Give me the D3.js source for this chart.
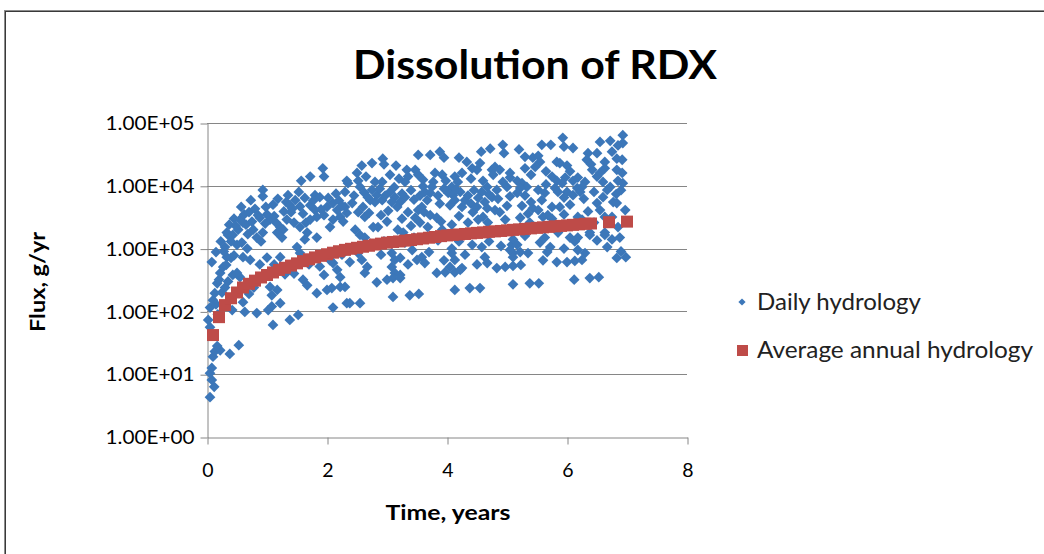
<!DOCTYPE html>
<html><head><meta charset="utf-8">
<script src="https://cdn.jsdelivr.net/npm/d3@7"></script>
<style>body{margin:0;background:#fff}svg{display:block}</style>
</head><body><svg id="c" width="1044" height="554"></svg>
<script>
const chartTitle = "Dissolution of RDX";
const xTitle = "Time, years";
const yTitle = "Flux, g/yr";
const xTicks = [0, 2, 4, 6, 8];
const yTicks = [1, 10, 100, 1000, 10000, 100000];
const yTickLabels = ["1.00E+00", "1.00E+01", "1.00E+02", "1.00E+03", "1.00E+04", "1.00E+05"];
const seriesNames = ["Daily hydrology", "Average annual hydrology"];

// Daily hydrology: [time (years), flux (g/yr)]
const dailyHydrology = [
[0.05,4.3],[0.12,6.3],[0.08,8.1],[0.05,10.4],[0.08,12.6],[0.10,19],[0.13,23],[0.22,24],[0.17,28],[0.38,21],[0.53,29],[0.05,56],[0.02,73],[0.05,115],[0.42,105],[0.60,140],[0.63,98],[0.83,94],[1.10,61],[1.02,105],[1.08,120],[1.22,135],[1.38,73],[1.52,88],[1.83,195],[2.10,115],[2.33,135],[0.22,410],[0.17,280],[0.13,195],[0.43,380],[0.55,350],[1.05,245],[1.17,220],[1.08,180],[1.60,320],[1.67,260],[2.00,220],[2.08,235],[2.22,245],[0.25,200],[0.30,1060],[0.35,1650],[0.50,1150],[0.67,1000],[0.33,730],[0.27,510],[0.60,730],[0.72,660],[1.22,730],[2.10,590],[2.17,460],[2.22,350],[0.50,410],[1.50,1060],[1.55,850],[1.60,660],[1.55,2200],[1.67,1800],[1.63,1400],[1.83,1500],[1.05,2900],[1.22,2200],[1.17,1800],[1.27,2000],[1.25,1500],[1.33,2900],[0.55,2900],[0.60,2600],[0.33,1800],[0.43,1650],[0.52,2000],[0.85,3400],[0.88,3100],[0.77,2000],[0.83,1500],[0.93,1800],[1.93,19000],[1.95,14000],[1.57,12000],[1.72,14000],[0.93,8600],[0.93,6800],[0.73,5900],[0.57,4600],[1.35,7100],[1.32,5500],[1.38,4900],[1.47,5900],[1.53,8000],[1.63,6400],[1.55,4700],[1.80,7100],[1.88,6600],[1.72,4900],[1.80,4100],[1.83,3200],[1.72,2900],[2.00,4600],[2.10,5300],[2.17,4100],[2.22,3200],[2.10,2900],[2.05,2200],[2.27,2700],[2.33,3700],[2.33,12000],[2.30,8000],[2.58,21000],[2.75,23000],[2.93,27000],[2.95,22000],[3.52,31000],[3.72,31000],[3.88,35000],[3.95,28000],[4.57,35000],[4.72,39000],[4.33,24000],[4.42,19000],[4.50,18000],[4.55,23000],[4.75,18000],[4.77,15000],[3.33,18000],[3.47,18000],[3.52,15000],[3.35,14000],[3.30,11500],[3.80,16000],[3.92,15000],[3.77,11500],[3.75,9600],[2.35,11000],[2.52,12000],[2.55,9600],[2.80,11500],[2.92,11500],[4.13,14000],[4.18,11500],[4.08,9600],[4.60,12000],[4.67,9600],[4.58,8000],[2.75,8600],[2.83,7100],[2.92,5900],[2.80,5500],[2.72,5900],[3.05,8000],[3.13,6600],[3.22,5500],[3.08,5500],[3.17,4600],[3.30,6600],[3.63,8000],[3.72,7700],[3.67,5900],[3.58,4600],[3.52,4100],[4.02,7700],[4.10,7100],[4.22,8000],[4.13,5900],[4.05,4900],[4.30,5900],[4.25,4600],[4.52,6400],[4.63,5500],[4.75,6600],[4.67,4400],[2.42,5300],[2.30,4600],[2.60,4600],[2.63,3200],[2.52,3800],[3.35,3800],[3.47,3100],[3.55,2600],[3.72,3400],[3.83,3100],[3.68,2200],[4.43,3800],[4.52,2900],[4.60,3200],[4.68,2600],[2.47,2000],[2.55,1650],[2.63,1500],[2.85,2200],[2.77,2200],[3.18,2000],[3.27,1800],[3.92,2000],[4.00,1650],[4.08,2400],[4.75,1800],[2.52,850],[2.58,660],[2.67,510],[2.63,410],[2.38,610],[3.08,850],[3.13,660],[3.08,510],[3.13,410],[3.22,380],[3.42,950],[3.50,660],[3.58,730],[3.63,590],[4.08,850],[4.13,660],[4.05,510],[4.13,420],[4.25,490],[4.42,1150],[4.58,1060],[4.63,730],[4.67,590],[3.83,410],[3.97,420],[2.38,135],[2.55,135],[3.10,170],[3.38,180],[3.53,190],[4.13,220],[4.38,235],[4.55,235],[5.10,270],[5.38,280],[5.53,280],[6.12,320],[6.38,340],[6.53,350],[6.83,710],[6.98,730],[2.83,290],[3.00,320],[3.10,340],[3.22,340],[4.22,460],[4.83,490],[4.97,510],[5.10,530],[5.23,550],[5.83,610],[6.00,610],[6.13,635],[6.25,660],[3.22,710],[4.08,1000],[5.08,1150],[5.10,850],[5.22,880],[5.63,1500],[5.67,880],[6.13,1300],[6.18,950],[6.63,1650],[6.67,1060],[6.75,1400],[6.38,1650],[2.30,245],
[6.93,64000],[6.93,48000],[6.55,50000],[6.72,52000],[5.93,58000],[5.95,42000],[5.58,45000],[5.73,45000],[4.93,45000],[4.95,33000],[6.35,33000],[6.50,33000],[6.33,26000],[5.30,29000],[5.43,28000],[5.52,30000],[5.55,24000],[5.47,20000],[5.30,19000],[5.83,24000],[5.88,23000],[6.83,27000],[6.92,26000],[6.63,24000],[6.63,19000],[4.80,20000],[4.88,18000],[6.42,18000],[6.50,14000],[6.55,16000],[6.83,18000],[6.92,16000],[6.85,12000],[6.93,11000],[6.05,17000],[5.97,13500],[6.10,12000],[5.75,14000],[5.83,12000],[5.92,11000],[5.05,13500],[4.93,11500],[5.00,9600],[5.17,12000],[5.25,11000],[5.33,9600],[5.22,9200],[5.17,7700],[6.18,13500],[6.30,11500],[6.25,9600],[6.17,9200],[6.10,7100],[6.22,8000],[6.60,11500],[6.72,9600],[6.67,8600],[6.60,6600],[4.83,8600],[5.52,8600],[5.63,7700],[5.58,5900],[5.80,9200],[5.85,8000],[6.00,8000],[6.77,5500],[6.83,5300],[5.43,4400],[5.52,4100],[5.75,4600],[5.88,4600],[6.50,5300],[6.55,4100],[6.63,3200],[6.75,3200],[6.97,4100],[4.80,4100],[4.88,3800],[4.97,2900],[5.22,3100],[5.60,3200],[5.68,3400],[5.38,2600],[5.43,2100],[6.18,3200],[6.25,2900],[6.08,2400],[6.38,1800],[6.63,1800],[6.05,1500],[6.18,1500],[5.10,1400],[5.17,1150],[5.05,950],[5.10,730],[5.72,1060],
[0.08,610],[0.15,880],[0.23,1300],[0.32,550],[0.40,710],[0.10,151],
[0.37,2400],[0.45,3000],[0.48,2300],[0.62,3500],[0.65,2400],[0.70,3800],[0.75,2700],[0.80,4300],[0.68,1700],[0.40,1300],[0.28,900],[0.45,780],[0.58,1250],[0.97,2500],[1.00,3500],[0.98,4600],[1.12,3300],[1.15,2600],[1.40,3800],[1.45,2600],[1.10,5000],[1.18,6200],[1.28,3900],[1.42,4300],[1.60,3600],[1.65,2600],[1.77,5800],[1.90,4200],[1.95,3400],[2.02,6400],[2.15,7500],[2.20,5800],[2.25,4800],[0.90,1300],[1.00,720],[1.12,560],[0.88,560],[0.35,300],[0.30,240],[0.20,320],[0.15,130],[0.18,90],[0.70,190],[0.78,240],[1.30,390],[1.45,400],[1.70,560],[1.88,520],[1.95,380],[2.05,650],[2.25,800],
[2.45,7000],[2.62,7800],[2.68,6600],[2.88,9000],[2.97,7000],[3.02,4000],[3.12,9500],[3.25,7500],[3.40,8500],[3.45,6000],[3.55,7000],[3.60,9800],[3.85,7000],[3.88,5200],[3.95,9000],[4.15,8800],[4.35,7000],[4.40,5200],[4.45,8500],[4.70,7300],[2.70,3700],[2.90,3400],[3.00,2700],[3.25,3000],[3.40,2300],[3.62,3800],[3.90,2700],[4.20,3300],[4.35,2600],[4.50,4600],[2.72,1200],[2.95,1300],[3.30,1250],[3.45,1500],[3.85,1350],[4.20,1300],[4.35,1700],[4.70,1300],[2.90,800],[3.35,560],[3.70,880],[3.95,650],[4.30,800],[4.50,560],[2.50,16000],[2.65,14000],[3.05,15000],[3.20,13000],[3.60,12500],[3.98,12000],[4.25,16000],[4.40,13000],[3.15,21000],[4.20,28000],
[4.85,6200],[5.05,6800],[5.30,7000],[5.40,5500],[5.65,10500],[5.95,6500],[6.05,5000],[6.28,6200],[6.45,8000],[6.82,7400],[6.90,8500],[5.00,4800],[5.25,4800],[5.35,3600],[5.75,3000],[5.95,3500],[6.35,3900],[6.45,2600],[6.85,2200],[5.00,1900],[5.30,1600],[5.55,1250],[5.85,1800],[6.50,1350],[6.88,1500],[4.90,1100],[5.35,850],[5.60,650],[5.95,1000],[6.30,850],[6.90,900],[5.05,16000],[5.40,15000],[5.65,17000],[6.00,21000],[6.40,22000],[6.75,35000],[5.20,38000],[6.10,40000],[6.85,44000]
];

// Average annual hydrology
const annualTime = [0.1,0.2,0.3,0.4,0.5,0.6,0.7,0.8,0.9,1.0,1.1,1.2,1.3,1.4,1.5,1.6,1.7,1.8,1.9,2.0,2.1,2.2,2.3,2.4,2.5,2.6,2.7,2.8,2.9,3.0,3.1,3.2,3.3,3.4,3.5,3.6,3.7,3.8,3.9,4.0,4.1,4.2,4.3,4.4,4.5,4.6,4.7,4.8,4.9,5.0,5.1,5.2,5.3,5.4,5.5,5.6,5.7,5.8,5.9,6.0,6.1,6.2,6.3,6.4,6.7,7.0];
const annualFlux = [42,81,126,162,200,240,275,309,347,380,417,457,495,537,582,631,676,724,767,813,861,908,955,993,1030,1070,1110,1160,1200,1245,1275,1300,1340,1370,1410,1450,1490,1530,1580,1620,1650,1680,1710,1750,1780,1810,1850,1880,1910,1950,1990,2020,2060,2100,2140,2180,2220,2260,2300,2340,2390,2430,2480,2510,2630,2690];

const blue = "#3c77b9", red = "#be4b48", gridC = "#868686";
const FONT = "Lato, 'Open Sans', sans-serif";

const svg = d3.select("#c");
// chart frame
svg.append("rect").attr("x", 4.5).attr("y", 10.5).attr("width", 1100).attr("height", 600)
  .attr("fill", "none").attr("stroke", "#8c8c8c").attr("stroke-width", 1);
svg.append("rect").attr("x", 5.5).attr("y", 11.5).attr("width", 1100).attr("height", 600)
  .attr("fill", "none").attr("stroke", "#3a3a3a").attr("stroke-width", 1);

const x = d3.scaleLinear().domain([0, 8]).range([207, 687]);
const y = d3.scaleLog().domain([1, 1e5]).range([437, 123]);

// gridlines
svg.append("g").selectAll("line").data(yTicks.slice(1)).join("line")
  .attr("x1", 207).attr("x2", 687)
  .attr("y1", d => Math.round(y(d)) + 0.5).attr("y2", d => Math.round(y(d)) + 0.5)
  .attr("stroke", gridC).attr("stroke-width", 1);

// axes
const yAxis = svg.append("g").attr("transform", "translate(207.5,0.5)")
  .call(d3.axisLeft(y).tickValues(yTicks).tickFormat((d, i) => yTickLabels[i]).tickSize(7).tickPadding(6).tickSizeOuter(0));
const xAxis = svg.append("g").attr("transform", "translate(0.5,437.5)")
  .call(d3.axisBottom(x).tickValues(xTicks).tickFormat(d3.format("d")).tickSize(7).tickPadding(19).tickSizeOuter(0));
[yAxis, xAxis].forEach(g => {
  g.selectAll("path,line").attr("stroke", gridC);
  g.selectAll("text").attr("font-family", FONT).attr("font-size", 19.5).attr("fill", "#000");
});
yAxis.selectAll("text").attr("textLength", 89).attr("lengthAdjust", "spacingAndGlyphs");

// daily points (diamonds)
const diamond = d3.symbol(d3.symbolSquare, 58)();
svg.append("g").selectAll("path").data(dailyHydrology).join("path")
  .attr("d", diamond)
  .attr("transform", d => `translate(${x(d[0])},${y(d[1])}) rotate(45)`)
  .attr("fill", blue);

// annual squares
svg.append("g").selectAll("rect").data(annualTime).join("rect")
  .attr("x", (d) => x(d) - 6).attr("y", (d, i) => y(annualFlux[i]) - 6)
  .attr("width", 12).attr("height", 12).attr("fill", red);

// titles
svg.append("text").attr("x", 535).attr("y", 79).attr("text-anchor", "middle")
  .attr("font-family", FONT).attr("font-weight", "bold").attr("font-size", 41)
  .attr("textLength", 364).attr("lengthAdjust", "spacingAndGlyphs").text(chartTitle);
svg.append("text").attr("x", 448).attr("y", 520).attr("text-anchor", "middle")
  .attr("font-family", FONT).attr("font-weight", "bold").attr("font-size", 21)
  .attr("textLength", 125).attr("lengthAdjust", "spacingAndGlyphs").text(xTitle);
svg.append("text").attr("transform", "translate(45,282) rotate(-90)").attr("text-anchor", "middle")
  .attr("font-family", FONT).attr("font-weight", "bold").attr("font-size", 21)
  .attr("textLength", 100).attr("lengthAdjust", "spacingAndGlyphs").text(yTitle);

// legend
const leg = svg.append("g");
leg.append("path").attr("d", d3.symbol(d3.symbolSquare, 26)()).attr("transform", "translate(742,302) rotate(45)").attr("fill", blue);
leg.append("rect").attr("x", 737).attr("y", 345).attr("width", 11).attr("height", 11).attr("fill", red);
const legW = [164, 276];
leg.selectAll("text").data(seriesNames).join("text")
  .attr("x", 757).attr("y", (d, i) => 310 + i * 48)
  .attr("font-family", FONT).attr("font-size", 23).attr("fill", "#222")
  .attr("textLength", (d, i) => legW[i]).attr("lengthAdjust", "spacingAndGlyphs")
  .text(d => d);
</script></body></html>
